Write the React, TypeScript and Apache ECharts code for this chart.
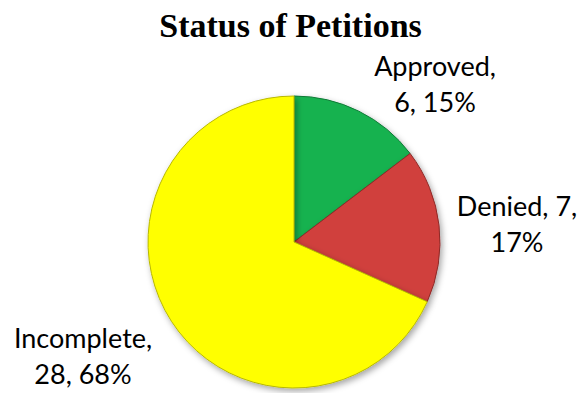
import React, { useEffect, useRef } from "react";
import * as echarts from "echarts";

const title = "Status of Petitions";
const categories = ["Approved", "Denied", "Incomplete"];
const values = [6, 7, 28];
const colors = ["#18B24F", "#D0403D", "#FFFF00"];
const borders = ["#0E7A36", "#8E2A28", "#B8B800"];
const labelTemplates = ["{b},\n{c}, {d}%", "{b}, {c},\n{d}%", "{b},\n{c}, {d}%"];

export default function App() {
  const ref = useRef<HTMLDivElement>(null);
  useEffect(() => {
    document.body.style.margin = "0";
    const chart = echarts.init(ref.current!, null, { renderer: "svg" });
    const labelPos = [
      { x: 435, y: 83 },
      { x: 517, y: 223 },
      { x: 83, y: 355 },
    ];
    chart.setOption({
      animation: false,
      backgroundColor: "#ffffff",
      title: {
        text: title,
        left: "center",
        top: 3,
        textStyle: {
          fontFamily: "Liberation Serif",
          fontWeight: "bold",
          fontSize: 34,
          color: "#000",
        },
      },
      series: [
        {
          type: "pie",
          center: [294, 242],
          radius: 146,
          startAngle: 90,
          clockwise: true,
          percentPrecision: 0,
          labelLine: { show: false },
          label: {
            show: true,
            position: "outside",
            fontFamily: "Lato",
            fontSize: 27,
            lineHeight: 36,
            color: "#000",
            align: "center",
            overflow: "none",
            width: 200,
          },
          labelLayout: (p: any) => {
            const lp = labelPos[p.dataIndex];
            return { x: lp.x, y: lp.y, align: "center", verticalAlign: "middle" };
          },
          data: categories.map((c, i) => ({
            name: c,
            value: values[i],
            label: { formatter: labelTemplates[i] },
            itemStyle: {
              color: colors[i],
              borderColor: borders[i],
              borderWidth: 1,
              shadowBlur: 6,
              shadowColor: "rgba(0,0,0,0.35)",
              shadowOffsetX: 2,
              shadowOffsetY: 3,
            },
          })),
        },
      ],
    });
    return () => chart.dispose();
  }, []);
  return <div ref={ref} style={{ width: 581, height: 393 }} />;
}
